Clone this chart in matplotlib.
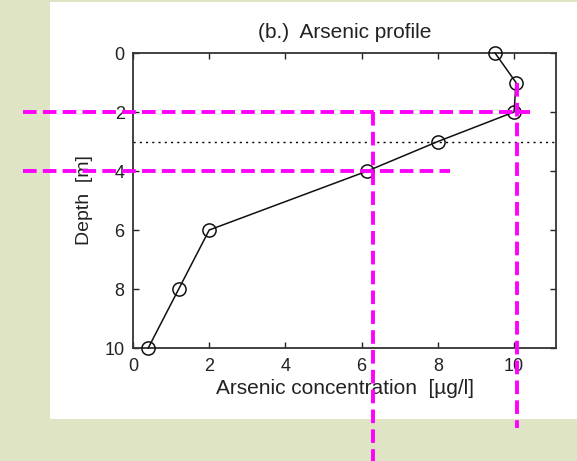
import matplotlib
matplotlib.use("Agg")
import matplotlib.pyplot as plt
from matplotlib.patches import Rectangle

# Arsenic profile data
arsenic = [9.5, 10.05, 10.0, 8.0, 6.15, 2.0, 1.2, 0.4]   # µg/l
depth = [0, 1, 2, 3, 4, 6, 8, 10]                         # m
water_table = 3

x_ticks = [0, 2, 4, 6, 8, 10]
y_ticks = [0, 2, 4, 6, 8, 10]

# Highlight guides (data coordinates, extending past the axes)
guide_h_depth = [2, 4]
guide_h_x0 = [-2.88, -2.88]
guide_h_x1 = [10.42, 8.32]
guide_v_x = [6.31, 10.08]
guide_v_top = [2, 1]
guide_v_bottom = [13.9, 12.7]

plt.rcParams["font.family"] = ["Liberation Sans", "DejaVu Sans"]

fig = plt.figure(figsize=(5.77, 4.61), dpi=100)
fig.patch.set_facecolor("#dfe5c4")
fig.patches.append(Rectangle((50 / 577, 42 / 461), 1 - 50 / 577, 417 / 461,
                             transform=fig.transFigure, facecolor="white",
                             edgecolor="none", zorder=-10))

ax = fig.add_axes([133 / 577, 1 - 348 / 461, 423 / 577, 295 / 461])
ax.set_zorder(1)
ax.set_facecolor("white")

ax.axhline(water_table, color="black", linestyle=(0, (1.5, 3)), linewidth=1.0)
ax.plot(arsenic, depth, color="#111111", linewidth=1.1, marker="o",
        markersize=9.5, markerfacecolor="none", markeredgecolor="#111111",
        markeredgewidth=1.1, clip_on=False, zorder=3)

ax.set_xlim(0, 11.1)
ax.set_ylim(10, 0)
ax.set_xticks(x_ticks)
ax.set_yticks(y_ticks)
ax.tick_params(direction="in", top=True, right=True, length=4, width=1,
               labelsize=13, colors="#222222")
ax.tick_params(axis="x", pad=7)
ax.tick_params(axis="y", pad=6)
for s in ax.spines.values():
    s.set_linewidth(1.3)
    s.set_color("#333333")

ax.set_title("(b.)  Arsenic profile", fontsize=15, pad=11, color="#222222")
ax.set_xlabel("Arsenic concentration  [\u00b5g/l]", fontsize=15, labelpad=3,
              color="#222222")
ax.set_ylabel("Depth  [m]", fontsize=14, labelpad=8, color="#222222")

dash = (0, (3.5, 1.6))
for d, x0, x1 in zip(guide_h_depth, guide_h_x0, guide_h_x1):
    ax.plot([x0, x1], [d, d], color="#ff00ff", linewidth=2.8,
            linestyle=dash, clip_on=False, zorder=5)
for x, t, b in zip(guide_v_x, guide_v_top, guide_v_bottom):
    ax.plot([x, x], [t, b], color="#ff00ff", linewidth=2.8,
            linestyle=dash, clip_on=False, zorder=5)

fig.savefig("out.png", dpi=100, facecolor=fig.get_facecolor())
